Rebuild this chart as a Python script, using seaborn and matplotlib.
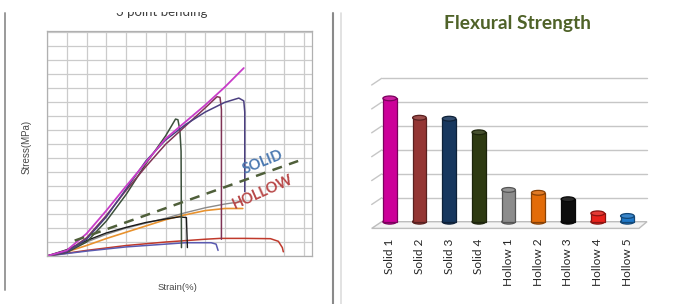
import matplotlib
matplotlib.use("Agg")
import matplotlib.pyplot as plt
import seaborn as sns
import numpy as np
from matplotlib.lines import Line2D
from matplotlib.patches import Ellipse, Polygon
from matplotlib.transforms import Bbox
import matplotlib.colors as mcolors

# ---------------- data: left panel (3 point bending curves, grid units) ----------------
strain_solid1 = [0, 1, 2, 3, 4, 5, 6, 7, 8, 9, 9.95]
stress_solid1 = [0, 0.4, 1.6, 3.25, 5.0, 6.7, 8.4, 9.6, 10.8, 12.1, 13.45]

strain_solid2 = [0, 1, 2, 3, 4, 5, 6, 7, 8, 8.6, 8.75, 8.82, 8.82]
stress_solid2 = [0, 0.3, 1.3, 2.9, 4.7, 6.4, 8.0, 9.3, 10.6, 11.4, 11.35, 10.5, 1.2]

strain_solid3 = [0, 1, 2, 3, 4, 5, 6, 7, 8, 9, 9.7, 9.95, 10.0, 10.0]
stress_solid3 = [0, 0.3, 1.2, 2.8, 4.8, 6.8, 8.3, 9.4, 10.3, 11.0, 11.3, 11.1, 10.3, 4.6]

strain_solid4 = [0, 1, 2, 3, 4, 5, 6, 6.5, 6.62, 6.72, 6.78, 6.8]
stress_solid4 = [0, 0.25, 1.0, 2.5, 4.4, 6.6, 8.6, 9.8, 9.75, 9.0, 7.5, 0.6]

strain_hollow1 = [0, 1, 2, 3, 4, 5, 6, 7, 8, 9, 9.85]
stress_hollow1 = [0, 0.4, 1.0, 1.55, 2.0, 2.35, 2.7, 3.1, 3.45, 3.72, 3.9]

strain_hollow2 = [0, 1, 2, 3, 4, 5, 6, 7, 8, 9, 9.9]
stress_hollow2 = [0, 0.3, 0.75, 1.25, 1.7, 2.15, 2.6, 2.95, 3.25, 3.4, 3.4]

strain_hollow3 = [0, 1, 2, 3, 4, 5, 6, 6.7, 7.05, 7.1]
stress_hollow3 = [0, 0.45, 1.1, 1.65, 2.05, 2.4, 2.65, 2.8, 2.75, 0.6]

strain_hollow4 = [0, 2, 4, 6, 8, 8.75, 10, 11.3, 11.7, 11.9, 11.95]
stress_hollow4 = [0, 0.4, 0.75, 1.0, 1.2, 1.26, 1.26, 1.24, 1.05, 0.6, 0.3]

strain_hollow5 = [0, 2, 4, 6, 7, 8.3, 8.55, 8.65]
stress_hollow5 = [0, 0.35, 0.65, 0.85, 0.95, 0.95, 0.85, 0.4]

trend_strain = [1.4, 12.7]
trend_stress = [1.1, 6.8]

curve_colors = {
    "Solid 1": "#C83CC8", "Solid 2": "#7F3355", "Solid 3": "#4B3F80", "Solid 4": "#3C503C",
    "Hollow 1": "#8A8A8A", "Hollow 2": "#E8922E", "Hollow 3": "#1A1A1A",
    "Hollow 4": "#C0392B", "Hollow 5": "#5A5AB0",
}

# ---------------- data: right panel (flexural strength) ----------------
samples = ["Solid 1", "Solid 2", "Solid 3", "Solid 4",
           "Hollow 1", "Hollow 2", "Hollow 3", "Hollow 4", "Hollow 5"]
strength = [5.16, 4.35, 4.31, 3.74, 1.33, 1.21, 0.94, 0.35, 0.24]
bar_colors = ["#CC0099", "#943634", "#17375E", "#2E3A12",
              "#8C8C8C", "#E36C09", "#0D0D0D", "#E8201A", "#1F78C8"]

# ---------------- figure ----------------
sns.set_theme(style="white")
W, H = 674, 304
fig = plt.figure(figsize=(W / 100, H / 100), dpi=100)
fig.patch.set_facecolor("white")

def fx(px):
    return px / W

def fy(py):
    return 1 - py / H

# ---------- left panel ----------
axL = fig.add_axes([fx(47), fy(256), fx(312) - fx(47), fy(31) - fy(256)])
axL.set_xlim(0, 13.4)
axL.set_ylim(0, 16.1)
axL.set_xticks(np.arange(0, 14, 1))
axL.set_yticks(np.arange(0, 17, 1))
axL.grid(True, color="#cbcbcb", lw=0.9)
axL.tick_params(left=False, bottom=False, labelleft=False, labelbottom=False)
for s in axL.spines.values():
    s.set_color("#b0b0b0")
    s.set_linewidth(0.9)
axL.set_axisbelow(True)

curves = [
    ("Hollow 4", strain_hollow4, stress_hollow4, 1.1),
    ("Hollow 5", strain_hollow5, stress_hollow5, 1.1),
    ("Hollow 2", strain_hollow2, stress_hollow2, 1.2),
    ("Hollow 1", strain_hollow1, stress_hollow1, 1.0),
    ("Hollow 3", strain_hollow3, stress_hollow3, 1.0),
    ("Solid 4", strain_solid4, stress_solid4, 1.1),
    ("Solid 2", strain_solid2, stress_solid2, 1.1),
    ("Solid 3", strain_solid3, stress_solid3, 1.1),
    ("Solid 1", strain_solid1, stress_solid1, 1.3),
]
for name, xs, ys, lw in curves:
    sns.lineplot(x=xs, y=ys, sort=False, estimator=None, color=curve_colors[name],
                 lw=lw, ax=axL, legend=False)

sns.lineplot(x=trend_strain, y=trend_stress, sort=False, estimator=None, color="#4F5F3A",
             lw=1.8, ax=axL, legend=False, dashes=False)
axL.lines[-1].set_dashes([4, 3])

axL.text(10.9, 6.7, "SOLID", color="#4A78B0", fontsize=10.5, fontweight="bold",
         family="Lato", rotation=22, ha="center", va="center")
axL.text(10.9, 4.57, "HOLLOW", color="#B84848", fontsize=10.5, fontweight="bold",
         family="Lato", rotation=24, ha="center", va="center")

fig.text(fx(27), fy(147), "Stress(MPa)", rotation=90, ha="center", va="center",
         fontsize=7, color="#484848", family="Liberation Sans")
fig.text(fx(178), fy(287.5), "Strain(%)", ha="center", va="center",
         fontsize=6.8, color="#484848", family="Liberation Sans")

t = fig.text(fx(162), fy(16), "3 point bending", ha="center", va="baseline",
             fontsize=9.5, color="#404040", family="Lato")
t.set_clip_box(Bbox([[0, 0], [W, H - 11.5]]))
t.set_clip_on(True)

# panel separators
fig.add_artist(Line2D([fx(5), fx(5)], [fy(290), fy(13)], color="#9a9a9a", lw=1.4))
fig.add_artist(Line2D([fx(333.3), fx(333.3)], [0, fy(13)], color="#8a8a8a", lw=1.5))
fig.add_artist(Line2D([fx(341), fx(341)], [0, fy(13)], color="#dddddd", lw=1.2))

# ---------- right panel ----------
unit_px = 23.9
y0_px = 221.7
ylo, yhi = -0.3, 6.0
axR = fig.add_axes([fx(381.7), fy(y0_px - ylo * unit_px), fx(647) - fx(381.7),
                    (yhi - ylo) * unit_px / H])
sns.barplot(x=samples, y=strength, hue=samples, palette=bar_colors, legend=False,
            width=0.46, ax=axR, saturation=1, zorder=3)
x0, x1 = -0.27, 8.66
axR.set_xlim(x0, x1)
axR.set_ylim(ylo, yhi)
for s in axR.spines.values():
    s.set_visible(False)
axR.set_yticks([])
axR.set_xlabel("")
axR.set_ylabel("")
axR.tick_params(axis="x", length=0, pad=7, labelsize=8.6, labelcolor="#262626",
                rotation=90)
for lab in axR.get_xticklabels():
    lab.set_family("Lato")
    lab.set_va("top")

dx = 10 / 29.6
dy = 6.7 / unit_px
grid_vals = np.arange(1, 7, 1)
for v in grid_vals:
    axR.plot([x0, x1], [v, v], color="#c6c6c6", lw=1.0, zorder=1, clip_on=False)
    axR.plot([x0 - dx, x0], [v - dy, v], color="#c6c6c6", lw=1.0, zorder=1, clip_on=False)
floor = Polygon([[x0, 0], [x1, 0], [x1 - dx * 0.8, -dy], [x0 - dx, -dy]], closed=True,
                facecolor="#f4f4f4", edgecolor="#bdbdbd", lw=1.0, zorder=1, clip_on=False)
axR.add_patch(floor)

cap_h = 0.2
for p, c in zip(axR.patches[:len(samples)], bar_colors):
    rgb = np.array(mcolors.to_rgb(c))
    dark = tuple(rgb * 0.6)
    light = tuple(np.clip(rgb * 0.85 + 0.12, 0, 1))
    p.set_edgecolor(dark)
    p.set_linewidth(0.9)
    xc = p.get_x() + p.get_width() / 2
    w = p.get_width()
    axR.add_patch(Ellipse((xc, 0), w, cap_h, facecolor=c, edgecolor=dark, lw=0.9, zorder=2.9))
    axR.add_patch(Ellipse((xc, p.get_height()), w, cap_h, facecolor=light, edgecolor=dark,
                          lw=0.9, zorder=4))

fig.text(fx(517.5), fy(29.5), "Flexural Strength", ha="center", va="baseline",
         fontsize=13.8, fontweight="bold", color="#4F6228", family="Lato")

fig.savefig("out.png", dpi=100)
